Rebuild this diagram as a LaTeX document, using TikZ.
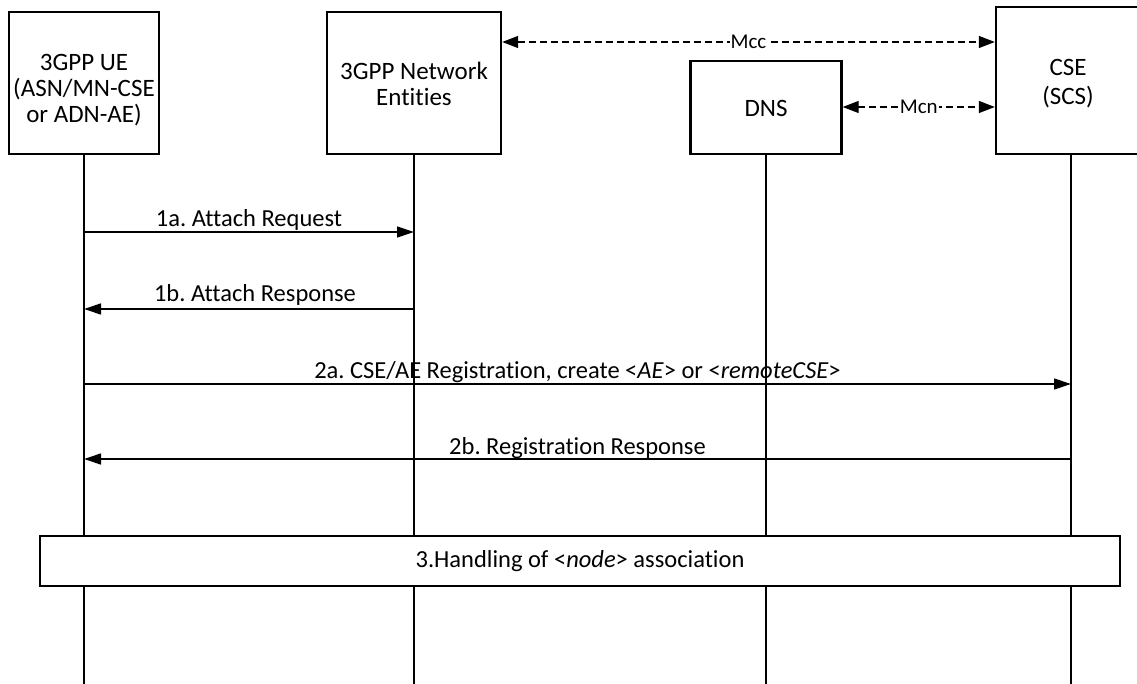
\documentclass[tikz,border=0pt]{standalone}
\usepackage{fontspec}
\setmainfont{Carlito}[Ligatures=NoCommon]
\usetikzlibrary{arrows.meta}
\begin{document}
\frenchspacing
\begin{tikzpicture}[x=1pt,y=-1pt,
  box/.style={draw,line width=2.4pt,fill=white,inner sep=0pt},
  btxt/.style={align=center,inner sep=0pt,font=\fontsize{25}{26}\selectfont},
  life/.style={line width=1.3pt},
  msg/.style={line width=1.3pt,-{Triangle[length=17pt,width=11pt]}},
  iface/.style={line width=1.3pt,dash pattern=on 7pt off 4pt,
    {Triangle[length=16pt,width=12pt]}-{Triangle[length=16pt,width=12pt]}},
  lbl/.style={font=\fontsize{24.5}{26}\selectfont,inner sep=0pt,anchor=base},
  ilbl/.style={font=\fontsize{21}{22}\selectfont,inner sep=1pt,fill=white},
  hbox/.style={draw,line width=1.5pt,fill=white,inner sep=0pt,
    font=\fontsize{24.5}{26}\selectfont}
]
\clip (0,0) rectangle (1137,684);
\fill[white] (0,0) rectangle (1137,684);
% participants
\node[box,minimum width=150pt,minimum height=142pt] (ue) at (84,83) {};
\node[btxt] (uetxt) at (84,90) {3GPP UE\\(ASN/MN-CSE\\or ADN-AE)};
\node[box,minimum width=174pt,minimum height=142pt] (ne) at (414,83) {};
\node[btxt] (netxt) at (414,84) {3GPP Network\\Entities};
\node[box,minimum width=151pt,minimum height=93pt] (dns) at (766,107.5) {};
\node[btxt] (dnstxt) at (766,108) {DNS};
\node[box,minimum width=150pt,minimum height=147pt] (cse) at (1071,80.5) {};
\node[btxt,font=\fontsize{25}{29}\selectfont] (csetxt) at (1068,84) {CSE\\(SCS)};
% helper coordinates
\coordinate (bot) at (0,684);
\coordinate (mcc) at (0,42);
\coordinate (mcn) at (0,107);
\coordinate (m1a) at (0,232);
\coordinate (m1b) at (0,309);
\coordinate (m2a) at (0,384);
\coordinate (m2b) at (0,459);
% lifelines
\draw[life] (ue.south) -- (ue.south |- bot);
\draw[life] (ne.south) -- (ne.south |- bot);
\draw[life] (dns.south) -- (dns.south |- bot);
\draw[life] (cse.south) -- (cse.south |- bot);
% reference points
\draw[iface] (ne.east |- mcc) -- node[ilbl]{Mcc} (cse.west |- mcc);
\draw[iface] (dns.east |- mcn) -- node[ilbl]{Mcn} (cse.west |- mcn);
% messages
\draw[msg] (ue.south |- m1a) -- node[lbl,yshift=5pt]{1a. Attach Request} (ne.south |- m1a);
\draw[msg] (ne.south |- m1b) -- node[lbl,yshift=7pt,xshift=6pt]{1b. Attach Response} (ue.south |- m1b);
\draw[msg] (ue.south |- m2a) -- node[lbl,yshift=6pt]{2a. CSE/AE Registration, create <\textit{AE}> or <\textit{remoteCSE}>} (cse.south |- m2a);
\draw[msg] (cse.south |- m2b) -- node[lbl,yshift=5pt]{2b. Registration Response} (ue.south |- m2b);
% handling box
\node[hbox,minimum width=1080pt,minimum height=50pt] (hnd) at (580,561)
  {3.Handling of <\textit{node}> association};
\end{tikzpicture}
\end{document}
